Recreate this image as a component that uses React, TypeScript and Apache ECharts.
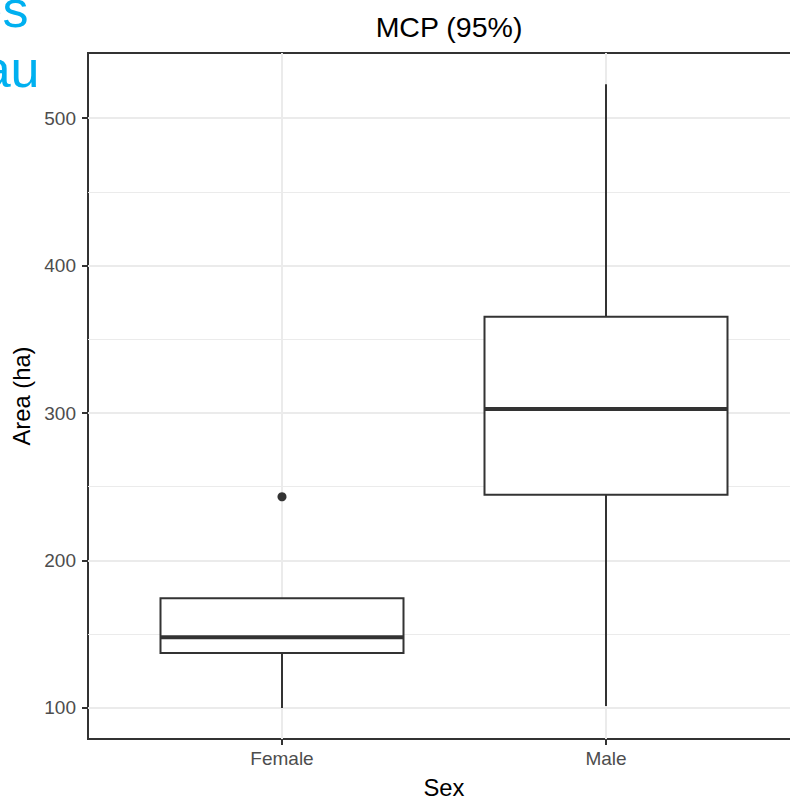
import React, { useEffect, useRef } from "react";
import * as echarts from "echarts";

// ---- data ----
const categories = ["Female", "Male"];
const whiskerLow = [100.0, 101.2];
const quartile1 = [137.2, 244.5];
const medians = [147.9, 302.7];
const quartile3 = [174.4, 365.3];
const whiskerHigh = [174.4, 523.0];
const outliers: [string, number][] = [["Female", 243.2]];
const majorTicks = [100, 200, 300, 400, 500];
const minorTicks = [150, 250, 350, 450];

const FONT = "'Liberation Sans', Arial, sans-serif";
const Y_MIN = 78.9;
const Y_MAX = 544.2;

export default function App() {
  const ref = useRef<HTMLDivElement>(null);

  useEffect(() => {
    document.body.style.overflow = "hidden";
    const chart = echarts.init(ref.current!, null, { renderer: "svg" });

    const boxData = categories.map((c, i) => [
      i,
      whiskerLow[i],
      quartile1[i],
      medians[i],
      quartile3[i],
      whiskerHigh[i],
    ]);

    const option: any = {
      animation: false,
      backgroundColor: "#ffffff",
      title: {
        text: "MCP (95%)",
        left: 444,
        top: 7,
        textAlign: "center",
        textStyle: { fontSize: 28.5, fontWeight: "normal", color: "#000", fontFamily: FONT },
      },
      graphic: [
        {
          type: "text",
          x: 28.5,
          y: 9,
          style: {
            text: "es",
            fill: "#00b0f0",
            font: `52px ${FONT}`,
            align: "right",
            verticalAlign: "middle",
          },
        },
        {
          type: "text",
          x: 39.5,
          y: 69,
          style: {
            text: "au",
            fill: "#00b0f0",
            font: `52px ${FONT}`,
            align: "right",
            verticalAlign: "middle",
          },
        },
      ],
      grid: [
        { left: 88, right: 2, top: 53, bottom: 59, show: true, borderColor: "#333333", borderWidth: 2, backgroundColor: "transparent", outerBoundsMode: "none", containLabel: false },
        { left: 282, right: 196, top: 53, bottom: 59, show: false, outerBoundsMode: "none", containLabel: false },
      ],
      xAxis: [
        { type: "value", gridIndex: 0, min: 0, max: 1, show: false },
        {
          type: "category",
          gridIndex: 1,
          data: categories,
          boundaryGap: false,
          position: "bottom",
          axisLine: { show: false },
          axisTick: { show: true, length: 6, lineStyle: { color: "#333333", width: 2 } },
          axisLabel: { fontSize: 19, color: "#4d4d4d", fontFamily: FONT, margin: 10 },
          splitLine: { show: true, lineStyle: { color: "#ebebeb", width: 2 } },
          name: "Sex",
          nameLocation: "middle",
          nameGap: 36,
          nameTextStyle: { fontSize: 23.75, color: "#000", fontFamily: FONT },
        },
      ],
      yAxis: [
        {
          type: "value",
          gridIndex: 0,
          min: Y_MIN,
          max: Y_MAX,
          position: "left",
          axisLine: { show: false },
          axisTick: { show: true, length: 6, customValues: majorTicks, lineStyle: { color: "#333333", width: 2 } },
          axisLabel: { fontSize: 19, color: "#4d4d4d", fontFamily: FONT, margin: 12, customValues: majorTicks },
          splitLine: { show: true, customValues: majorTicks, lineStyle: { color: "#ebebeb", width: 2 } },
          name: "Area (ha)",
          nameLocation: "middle",
          nameGap: 52,
          nameRotate: 90,
          nameTextStyle: { fontSize: 23.75, color: "#000", fontFamily: FONT },
        },
        {
          type: "value",
          gridIndex: 0,
          min: Y_MIN,
          max: Y_MAX,
          position: "left",
          axisLine: { show: false },
          axisTick: { show: false, customValues: minorTicks },
          axisLabel: { show: false, customValues: minorTicks },
          splitLine: { show: true, customValues: minorTicks, lineStyle: { color: "#ebebeb", width: 1 } },
        },
        { type: "value", gridIndex: 1, min: Y_MIN, max: Y_MAX, show: false },
      ],
      series: [
        {
          type: "custom",
          xAxisIndex: 1,
          yAxisIndex: 2,
          clip: false,
          z: 3,
          data: boxData,
          encode: { x: 0, y: [1, 2, 3, 4, 5] },
          renderItem: (params: any, api: any) => {
            const cat = api.value(0);
            const pLow = api.coord([cat, api.value(1)]);
            const pQ1 = api.coord([cat, api.value(2)]);
            const pMed = api.coord([cat, api.value(3)]);
            const pQ3 = api.coord([cat, api.value(4)]);
            const pHigh = api.coord([cat, api.value(5)]);
            const bw = api.size([1, 0])[0] * 0.75;
            const x = pMed[0];
            const stroke = { stroke: "#333333", lineWidth: 2 };
            return {
              type: "group",
              children: [
                { type: "line", shape: { x1: x, y1: pLow[1], x2: x, y2: pQ1[1] }, style: stroke },
                { type: "line", shape: { x1: x, y1: pQ3[1], x2: x, y2: pHigh[1] }, style: stroke },
                {
                  type: "rect",
                  shape: { x: x - bw / 2, y: pQ3[1], width: bw, height: pQ1[1] - pQ3[1] },
                  style: { fill: "#ffffff", stroke: "#333333", lineWidth: 2 },
                },
                {
                  type: "line",
                  shape: { x1: x - bw / 2, y1: pMed[1], x2: x + bw / 2, y2: pMed[1] },
                  style: { stroke: "#333333", lineWidth: 4 },
                },
              ],
            };
          },
        },
        {
          type: "scatter",
          xAxisIndex: 1,
          yAxisIndex: 2,
          z: 4,
          symbol: "circle",
          symbolSize: 9,
          itemStyle: { color: "#333333", opacity: 1 },
          data: outliers,
        },
      ],
    };

    chart.setOption(option);
    return () => {
      chart.dispose();
    };
  }, []);

  return (
    <div
      ref={ref}
      style={{ position: "fixed", left: 0, top: 0, width: 802, height: 798 }}
    />
  );
}
